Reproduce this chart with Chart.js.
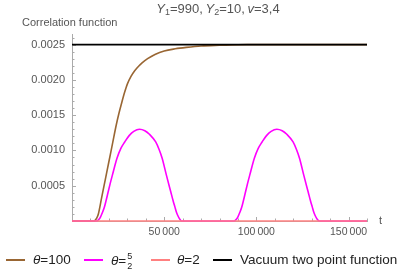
<!DOCTYPE html>
<html>
<head>
<meta charset="utf-8">
<script src="https://cdn.jsdelivr.net/npm/chart.js@4.4.1/dist/chart.umd.min.js"></script>
<style>
  body { margin: 0; background: #fff; font-family: "Liberation Sans", Arial, sans-serif; }
  #wrap { position: relative; width: 406px; height: 277px; overflow: hidden; }
  #title { position: absolute; left: 0; top: 0; width: 436px; text-align: center; font-size: 13px; color: #555; line-height: 17px; }
  #title sub { font-size: 9px; vertical-align: -2px; line-height: 0; }
  .item { position: absolute; top: 251px; font-size: 13.5px; color: #222; white-space: nowrap; line-height: 18px; }
  .swatch { position: absolute; top: 8px; height: 2px; width: 19px; }
  .lbl { position: absolute; top: 0; }
  .frac { display: inline-block; vertical-align: middle; text-align: center; font-size: 9px; line-height: 10px; margin-left: 1px; }
  .frac span { display: block; }
</style>
</head>
<body>
<div id="wrap">
  <canvas id="chart" width="406" height="277"></canvas>
  <div id="title"><i>Y</i><sub>1</sub>=990,&thinsp;<i>Y</i><sub>2</sub>=10,&thinsp;<i>v</i>=3,4</div>
  <div id="legend"></div>
</div>
<script>
// theta = 100
const tBrown = [0, 11500, 12500, 13400, 14300, 16000, 18000, 20000, 22000, 24000, 25500, 27000, 28500, 30000, 32000, 34000,
                36000, 38000, 41000, 45000, 50000, 56000, 62000, 70000, 80000, 95000, 160000];
const yBrown = [0, 0, 0.00001, 0.00004, 0.0001, 0.00032, 0.00058, 0.00084, 0.0011, 0.00136, 0.00153, 0.00168, 0.00182, 0.00194, 0.00205, 0.00213,
                0.00219, 0.00224, 0.0023, 0.00236, 0.00241, 0.00244, 0.00246, 0.00248, 0.00249, 0.0025, 0.0025];

// theta = 5/2
const tMagenta = [0, 13500, 14500, 15500, 16500, 17500, 18500, 19500, 20700, 21900, 24400, 26500, 28600, 31000, 33500, 36600,
                  39500, 42000, 45400, 47300, 48900, 51200, 53600, 54800, 55800, 56700, 57700, 58600, 59400,
                  88000, 89000, 90000, 91000, 92000, 93000, 94000, 95200, 96400, 98900, 101000, 103100, 105500, 108000, 111100,
                  114000, 116500, 119900, 121800, 123400, 125700, 128100, 129300, 130300, 131200, 132200, 133100, 134000, 160000];
const yMagenta = [0, 0, 0.00002, 0.00006, 0.00012, 0.00019, 0.00029, 0.0004, 0.00053, 0.00065, 0.00089, 0.00103, 0.00112, 0.00121, 0.00127, 0.0013,
                  0.00128, 0.00123, 0.00112, 0.00101, 0.00089, 0.00065, 0.00041, 0.00029, 0.0002, 0.00012, 0.00006, 0.00002, 0,
                  0, 0.00002, 0.00006, 0.00012, 0.00019, 0.00029, 0.0004, 0.00053, 0.00065, 0.00089, 0.00103, 0.00112, 0.00121, 0.00127, 0.0013,
                  0.00128, 0.00123, 0.00112, 0.00101, 0.00089, 0.00065, 0.00041, 0.00029, 0.0002, 0.00012, 0.00006, 0.00002, 0, 0];

// theta = 2 and vacuum
const tFlat = [0, 160000];
const yPink = [0, 0];
const yVacuum = [0.0025, 0.0025];

const seriesLabels = ['θ=100', 'θ=5/2', 'θ=2', 'Vacuum two point function'];
const seriesColors = ['#996633', '#ff00ff', '#ff8080', '#000000'];

const xTicks = [50000, 100000, 150000];
const yTicks = [0.0005, 0.0010, 0.0015, 0.0020, 0.0025];
const xMinor = [10000, 20000, 30000, 40000, 50000, 60000, 70000, 80000, 90000, 100000, 110000, 120000, 130000, 140000, 150000, 160000];
const yMinor = [0.0001, 0.0002, 0.0003, 0.0004, 0.0005, 0.0006, 0.0007, 0.0008, 0.0009, 0.0010, 0.0011, 0.0012, 0.0013, 0.0014,
                0.0015, 0.0016, 0.0017, 0.0018, 0.0019, 0.0020, 0.0021, 0.0022, 0.0023, 0.0024, 0.0025, 0.0026];

const toPoints = (xs, ys) => xs.map((x, i) => ({ x: x, y: ys[i] }));

// inside tick marks plus the axis captions
const decorations = {
    id: 'decorations',
    beforeDatasetsDraw(chart) {
        const { ctx, scales: { x, y } } = chart;
        ctx.save();
        ctx.strokeStyle = '#aaa';
        ctx.lineWidth = 1;
        ctx.beginPath();
        xMinor.forEach(v => {
            const px = Math.round(x.getPixelForValue(v)) + 0.5;
            const len = xTicks.includes(v) ? 4 : 2.5;
            ctx.moveTo(px, y.bottom);
            ctx.lineTo(px, y.bottom - len);
        });
        yMinor.forEach(v => {
            const py = Math.round(y.getPixelForValue(v)) + 0.5;
            const len = yTicks.some(t => Math.abs(t - v) < 1e-9) ? 4 : 2.5;
            ctx.moveTo(x.left, py);
            ctx.lineTo(x.left + len, py);
        });
        ctx.stroke();
        ctx.restore();
    },
    afterDraw(chart) {
        const { ctx, scales: { x, y } } = chart;
        ctx.save();
        ctx.fillStyle = '#555';
        ctx.font = '11px "Liberation Sans", Arial, sans-serif';
        ctx.textBaseline = 'middle';
        ctx.textAlign = 'left';
        ctx.fillText('Correlation function', 22, 23);
        ctx.fillText('t', x.right + 12, y.bottom);
        ctx.restore();
    }
};

const ctx = document.getElementById('chart').getContext('2d');
const chart = new Chart(ctx, {
    type: 'line',
    data: {
        datasets: [
            { label: seriesLabels[0], data: toPoints(tBrown, yBrown), borderColor: seriesColors[0], order: 3 },
            { label: seriesLabels[1], data: toPoints(tMagenta, yMagenta), borderColor: seriesColors[1], order: 2 },
            { label: seriesLabels[2], data: toPoints(tFlat, yPink), borderColor: seriesColors[2], order: 1 },
            { label: seriesLabels[3], data: toPoints(tFlat, yVacuum), borderColor: seriesColors[3], order: 0 }
        ]
    },
    options: {
        responsive: false,
        animation: false,
        events: [],
        datasets: {
            line: { borderWidth: 1.6, pointRadius: 0, cubicInterpolationMode: 'monotone', clip: 4 }
        },
        layout: { padding: { top: 34, right: 39, bottom: 26, left: 0 } },
        plugins: { legend: { display: false }, title: { display: false }, tooltip: { enabled: false } },
        scales: {
            x: {
                type: 'linear', min: 0, max: 160000,
                grid: { display: false, drawTicks: false },
                border: { color: '#aaa', width: 1 },
                afterBuildTicks: s => { s.ticks = xTicks.map(v => ({ value: v })); },
                afterFit: s => { s.height = 30; },
                ticks: {
                    padding: 5, color: '#555', maxRotation: 0,
                    font: { size: 10.5, family: '"Liberation Sans", Arial, sans-serif' },
                    callback: v => String(v).replace(/(\d{3})$/, '\u2009$1')
                }
            },
            y: {
                min: 0, max: 0.00265,
                grid: { display: false, drawTicks: false },
                border: { color: '#aaa', width: 1 },
                afterBuildTicks: s => { s.ticks = yTicks.map(v => ({ value: v })); },
                afterFit: s => { s.width = 72; },
                ticks: {
                    padding: 7, color: '#555',
                    font: { size: 11, family: '"Liberation Sans", Arial, sans-serif' },
                    callback: v => v.toFixed(4)
                }
            }
        }
    },
    plugins: [decorations]
});

// legend in HTML so the fraction can be stacked
const legendPos = [[6, 33], [84, 111], [151, 177], [213, 240]];
const legend = document.getElementById('legend');
seriesLabels.forEach((lab, i) => {
    const item = document.createElement('div');
    item.className = 'item';
    item.style.left = '0px';
    const sw = document.createElement('div');
    sw.className = 'swatch';
    sw.style.left = legendPos[i][0] + 'px';
    sw.style.background = seriesColors[i];
    const tx = document.createElement('div');
    tx.className = 'lbl';
    tx.style.left = legendPos[i][1] + 'px';
    let html = lab.replace('θ', '<i>θ</i>');
    const m = html.match(/(\d+)\/(\d+)$/);
    if (m) html = html.replace(m[0], '<span class="frac"><span>' + m[1] + '</span><span>' + m[2] + '</span></span>');
    tx.innerHTML = html;
    item.appendChild(sw);
    item.appendChild(tx);
    legend.appendChild(item);
});
</script>
</body>
</html>
